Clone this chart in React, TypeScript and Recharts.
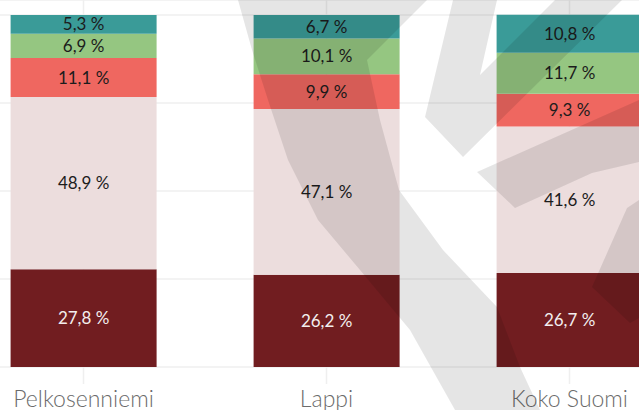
import { BarChart, Bar, XAxis, YAxis, CartesianGrid, LabelList } from "recharts";

const areas = ["Pelkosenniemi", "Lappi", "Koko Suomi"];
const level1 = [27.8, 26.2, 26.7];
const level2 = [48.9, 47.1, 41.6];
const level3 = [11.1, 9.9, 9.3];
const level4 = [6.9, 10.1, 11.7];
const level5 = [5.3, 6.7, 10.8];
const yTicks = [0, 25, 50, 75, 100];

const series = [
  { key: "level1", values: level1, color: "#711d20", text: "#f3eeee" },
  { key: "level2", values: level2, color: "#ecdddd", text: "#1c1c1c" },
  { key: "level3", values: level3, color: "#ef6760", text: "#1c1c1c" },
  { key: "level4", values: level4, color: "#95c681", text: "#1c1c1c" },
  { key: "level5", values: level5, color: "#3a9b98", text: "#1c1c1c" },
];

const data = areas.map((name, i) => {
  const row: Record<string, string | number> = { name };
  series.forEach((s) => {
    row[s.key] = s.values[i];
  });
  return row;
});

const fmt = (v: unknown) => `${Number(v).toFixed(1).replace(".", ",")} %`;

// faint logo watermark laid over the chart
const watermark = [
  "238,0 427,0 367,60 380,120 399,190 443,250 497,307 520,367 540,410 455,410 410,330 360,270 318,220 288,160 268,100 252,50",
  "453,0 497,0 480,75 555,0 622,0 463,157 425,117",
  "477,172 639,100 639,162 592,173 515,208",
  "627,208 639,200 639,318 630,323 592,287",
];

export default function App() {
  return (
    <div style={{ position: "fixed", left: 0, top: 0, width: 639, height: 410, overflow: "hidden", background: "#fff" }}>
      <div style={{ position: "absolute", left: -38.5, top: 0 }}>
        <BarChart
          width={729}
          height={420}
          data={data}
          margin={{ top: 0, right: 0, bottom: 0, left: 0 }}
          barCategoryGap="20%"
          style={{ fontFamily: "Lato, sans-serif" }}
        >
          <CartesianGrid stroke="#efefef" strokeWidth={1.5} />
          <XAxis
            dataKey="name"
            axisLine={false}
            tickLine={{ stroke: "#efefef", strokeWidth: 1.5 }}
            tickSize={17}
            height={53}
            tick={{ fill: "#6b6b6b", fontSize: 23, fontWeight: 300, dy: 5 }}
          />
          <YAxis hide domain={[0, 104.26]} ticks={yTicks} />
          {series.map((s) => (
            <Bar key={s.key} dataKey={s.key} stackId="a" fill={s.color} isAnimationActive={false}>
              <LabelList dataKey={s.key} position="center" formatter={fmt} fill={s.text} fontSize={17} />
            </Bar>
          ))}
        </BarChart>
      </div>
      <svg width={639} height={410} style={{ position: "absolute", left: 0, top: 0, pointerEvents: "none" }}>
        {watermark.map((p, i) => (
          <polygon key={i} points={p} fill="#000" fillOpacity={0.1} />
        ))}
      </svg>
    </div>
  );
}
